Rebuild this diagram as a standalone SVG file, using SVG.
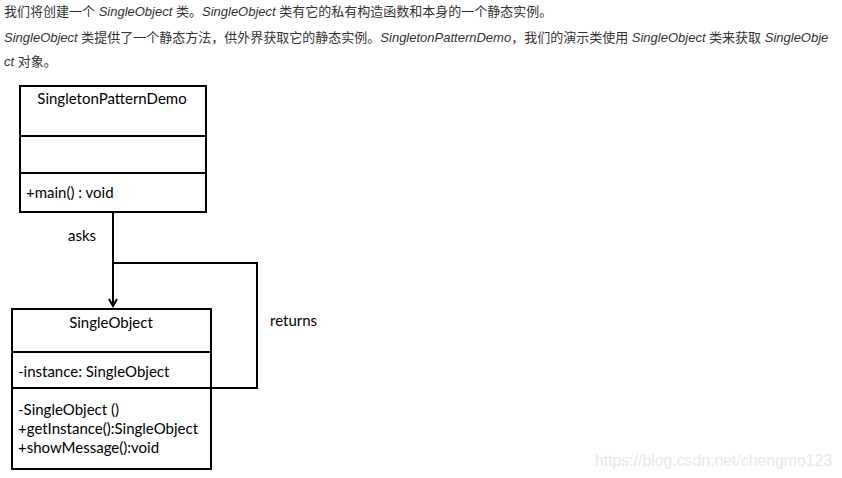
<svg xmlns="http://www.w3.org/2000/svg" width="842" height="478" viewBox="0 0 842 478">
<defs>
<style>
.intro{font-family:"Liberation Sans","Noto Sans CJK SC",sans-serif;font-size:13px;fill:#333}
.it{font-style:italic}
.box{fill:#fff;stroke:#000;stroke-width:2}
.uml{font-family:Lato,"Open Sans",sans-serif;font-size:15px;fill:#000}
.conn{fill:none;stroke:#000;stroke-width:2}
.wm{font-family:"Liberation Sans",sans-serif;font-size:15.8px;fill:#e8e8e8}
</style>
<marker id="arr" markerWidth="10" markerHeight="10" refX="8" refY="5" orient="auto" markerUnits="userSpaceOnUse">
<path d="M1,1 L8,5 L1,9" fill="none" stroke="#000" stroke-width="2"/>
</marker>
</defs>
<rect width="842" height="478" fill="#fff"/>
<text class="intro" x="4" y="16">我们将创建一个 <tspan class="it">SingleObject</tspan> 类。<tspan class="it">SingleObject</tspan> 类有它的私有构造函数和本身的一个静态实例。</text>
<text class="intro" x="4" y="42"><tspan class="it">SingleObject</tspan> 类提供了一个静态方法，供外界获取它的静态实例。<tspan class="it">SingletonPatternDemo</tspan>，我们的演示类使用 <tspan class="it">SingleObject</tspan> 类来获取 <tspan class="it">SingleObje</tspan></text>
<text class="intro" x="4" y="66"><tspan class="it">ct</tspan> 对象。</text>
<g id="connectors">
<path class="conn" d="M113,212 V306" marker-end="url(#arr)"/>
<path class="conn" d="M113,263 H257 V388 H211"/>
<text class="uml" x="68" y="241">asks</text>
<text class="uml" x="270" y="326">returns</text>
</g>
<g id="SingletonPatternDemo">
<rect class="box" x="20" y="86" width="186" height="126"/>
<line class="conn" x1="20" y1="136" x2="206" y2="136"/>
<line class="conn" x1="20" y1="173" x2="206" y2="173"/>
<text class="uml" x="112" y="104" text-anchor="middle">SingletonPatternDemo</text>
<text class="uml" x="26" y="198">+main() : void</text>
</g>
<g id="SingleObject">
<rect class="box" x="12" y="309" width="199" height="160"/>
<line class="conn" x1="12" y1="352" x2="211" y2="352"/>
<line class="conn" x1="12" y1="388" x2="211" y2="388"/>
<text class="uml" x="111" y="328" text-anchor="middle">SingleObject</text>
<text class="uml" x="18" y="377">-instance: SingleObject</text>
<text class="uml" x="18" y="415">-SingleObject ()</text>
<text class="uml" x="18" y="434">+getInstance():SingleObject</text>
<text class="uml" x="18" y="453">+showMessage():void</text>
</g>
<text class="wm" x="595" y="466">https://blog.csdn.net/chengmo123</text>
</svg>
